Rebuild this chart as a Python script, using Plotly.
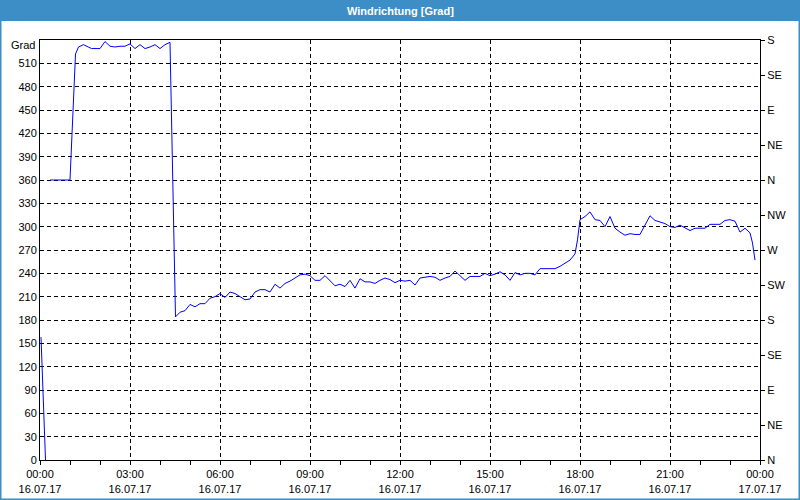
import plotly.graph_objects as go
from datetime import datetime, timedelta

# --- data: sample time (minutes after 16.07.17 00:00) and wind direction [Grad]
minutes = [2, 11, None,
           20, 60, 71, 77, 87, 97, 103, 120, 130, 140, 150, 160, 170, 180, 190, 200,
           210, 220, 230, 240, 250, 260, 271,
           280, 290, 300, 310, 320, 330, 340, 350, 360, 370, 380, 390, 400, 410, 420,
           430, 440, 450, 460, 470, 480, 490, 500, 510, 520, 530, 540, 550, 560, 570,
           580, 590, 600, 610, 620, 630, 640, 650, 660, 670, 680, 690, 700, 710, 720,
           730, 740, 750, 760, 770, 780, 790, 800, 810, 820, 830, 840, 850, 860, 870,
           880, 890, 900, 910, 920, 930, 940, 950, 960, 970, 980, 990, 1000, 1010, 1020,
           1030, 1040, 1050, 1060, 1070, 1075, 1080, 1090, 1100, 1110, 1120, 1130, 1140,
           1150, 1160, 1170, 1180, 1190, 1200, 1210, 1220, 1230, 1240, 1250, 1260, 1270,
           1280, 1290, 1300, 1310, 1320, 1330, 1340, 1350, 1360, 1370, 1380, 1390, 1400,
           1410, 1420, 1425, 1430]
values = [158, 0, None,
          360, 360, 522, 531, 534, 531, 529, 529, 538, 532, 531, 532, 532, 535, 529, 534,
          529, 531, 534, 529, 534, 537, 184,
          190, 192, 200, 197, 201, 201, 208, 210, 214, 209, 216, 214, 210, 206, 207,
          216, 219, 219, 216, 226, 221, 227, 230, 234, 238, 239, 237, 231, 231, 237,
          231, 224, 226, 223, 231, 221, 233, 229, 229, 227, 231, 234, 232, 228, 231,
          230, 231, 225, 234, 235, 236, 235, 231, 234, 236, 243, 237, 231, 236, 236,
          236, 240, 237, 239, 242, 238, 231, 241, 238, 240, 240, 238, 246, 246, 246,
          246, 249, 253, 257, 265, 283, 309, 313, 319, 309, 308, 300, 313,
          298, 293, 289, 291, 290, 290, 302, 314, 308, 306, 304, 300, 299,
          302, 299, 295, 298, 298, 298, 303, 303, 303, 308, 309, 307, 293,
          298, 292, 279, 257]

y_ticks = list(range(0, 511, 30))
compass_vals = list(range(0, 541, 45))
compass_labels = ["N", "NE", "E", "SE", "S", "SW", "W", "NW", "N", "NE", "E", "SE", "S"]
x_tick_hours = list(range(0, 25, 3))
x_tick_labels = ["00:00<br>16.07.17", "03:00<br>16.07.17", "06:00<br>16.07.17",
                 "09:00<br>16.07.17", "12:00<br>16.07.17", "15:00<br>16.07.17",
                 "18:00<br>16.07.17", "21:00<br>16.07.17", "00:00<br>17.07.17"]

base = datetime(2017, 7, 16)
xs = [None if m is None else base + timedelta(minutes=m) for m in minutes]
tick_x = [base + timedelta(hours=h) for h in x_tick_hours]

FONT = "Liberation Sans"
W, H, L, R, T, B = 800, 500, 40, 40, 40, 40
PW, PH = W - L - R, H - T - B

def px(x):
    return (x - L) / PW

def py(y):
    return (H - B - y) / PH

fig = go.Figure()
fig.add_trace(go.Scatter(x=xs, y=values, mode="lines", connectgaps=False,
                         line=dict(color="#0000FF", width=1), showlegend=False,
                         hoverinfo="skip"))
# dummy trace for the right axis
fig.add_trace(go.Scatter(x=[base], y=[0], yaxis="y2", mode="markers",
                         marker=dict(opacity=0), showlegend=False, hoverinfo="skip"))

grid = dict(showgrid=True, gridcolor="#000000", gridwidth=1, griddash="4px,3px")

fig.update_layout(
    width=W, height=H,
    margin=dict(l=L, r=R, t=T, b=B, autoexpand=False),
    paper_bgcolor="#FFFFFF", plot_bgcolor="#FFFFFF",
    font=dict(family=FONT, size=11, color="#000000"),
    xaxis=dict(range=[base, base + timedelta(hours=24)], tickvals=tick_x,
               ticktext=x_tick_labels, ticks="outside", ticklen=4, tickcolor="#000",
               minor=dict(dtick=3600000, ticks="outside", ticklen=4, tickcolor="#000",
                          showgrid=False),
               showline=True, linecolor="#000", linewidth=1, mirror=True,
               zeroline=False, automargin=False, **grid),
    yaxis=dict(range=[0, 540], tickvals=y_ticks, ticks="", showline=True,
               linecolor="#000", linewidth=1, zeroline=False, automargin=False, **grid),
    yaxis2=dict(range=[0, 540], overlaying="y", side="right", tickvals=compass_vals,
                ticktext=compass_labels, ticks="outside", ticklen=4, tickcolor="#000",
                showline=True, linecolor="#000", linewidth=1, showgrid=False,
                zeroline=False, automargin=False),
    shapes=[
        dict(type="rect", xref="paper", yref="paper", x0=px(0), x1=px(800),
             y0=py(21), y1=py(0), fillcolor="#3D8EC6", line=dict(width=0), layer="below"),
        dict(type="rect", xref="paper", yref="paper", x0=px(0.75), x1=px(799.25),
             y0=py(499.25), y1=py(0.75), line=dict(color="#3D8EC6", width=1.5),
             fillcolor="rgba(0,0,0,0)"),
    ],
    annotations=[
        dict(text="<b>Windrichtung [Grad]</b>", xref="paper", yref="paper",
             x=px(400), y=py(10.5), xanchor="center", yanchor="middle", showarrow=False,
             font=dict(color="#FFFFFF", size=11, family=FONT)),
        dict(text="Grad", xref="paper", yref="paper", x=0, y=py(45),
             xanchor="right", yanchor="middle", xshift=-3, showarrow=False,
             font=dict(size=11, family=FONT, color="#000")),
    ],
)

fig.write_html("out.html")
